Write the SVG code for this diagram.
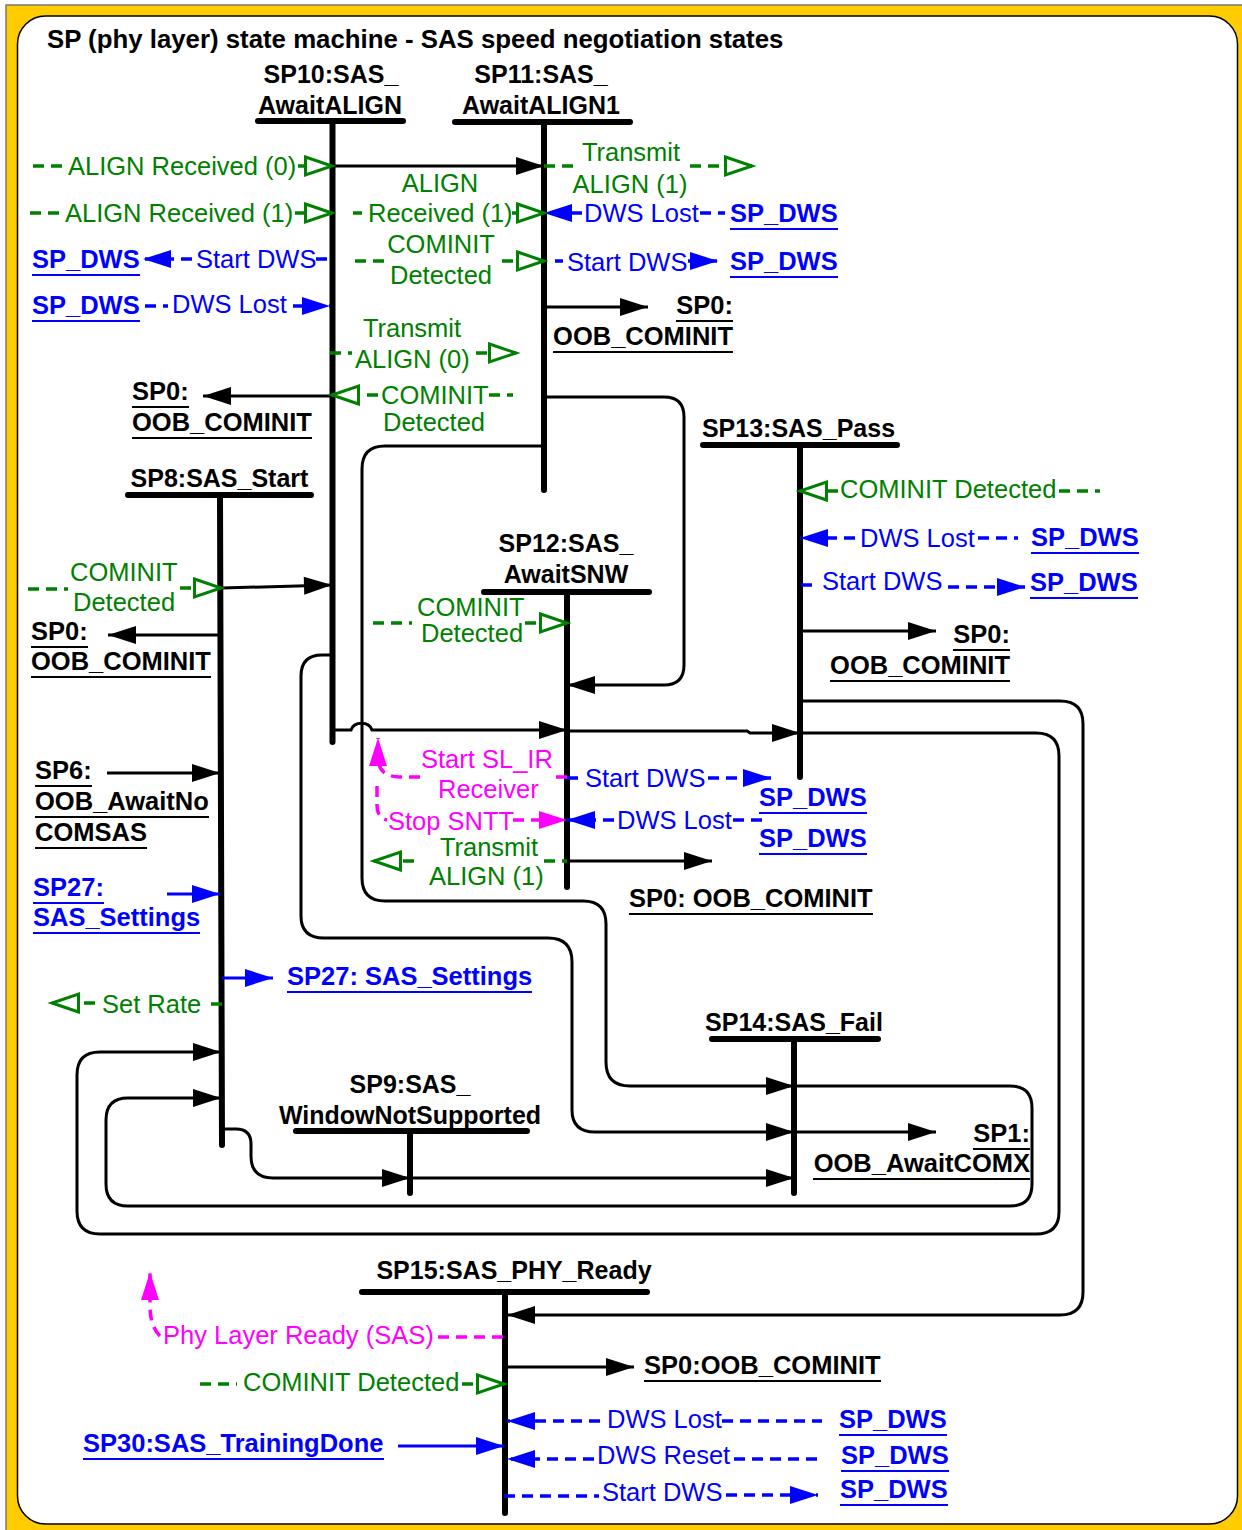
<svg xmlns="http://www.w3.org/2000/svg" width="1242" height="1530" viewBox="0 0 1242 1530">
<style>
.st{font:bold 25px "Liberation Sans",Arial,sans-serif;fill:#000}
.tt{font:bold 25.8px "Liberation Sans",Arial,sans-serif;fill:#000}
.lb{font:25.5px "Liberation Sans",Arial,sans-serif}
.g{fill:#008000}.b{fill:#0000ff}.m{fill:#ff00ff}
.lk{font:bold 25.5px "Liberation Sans",Arial,sans-serif;fill:#0000ff}
.rf{font:bold 25.5px "Liberation Sans",Arial,sans-serif;fill:#000}
.ulb{fill:none;stroke:#0000ff;stroke-width:2}
.ulk{fill:none;stroke:#000;stroke-width:2}
.bar{stroke:#000;stroke-width:6;stroke-linecap:round;fill:none}
.t{fill:none;stroke:#000;stroke-width:3}
.bs{fill:none;stroke:#0000ff;stroke-width:3}
.bd{fill:none;stroke:#0000ff;stroke-width:3.5;stroke-dasharray:11 7}
.gd{fill:none;stroke:#008000;stroke-width:3.5;stroke-dasharray:11 7}
.md{fill:none;stroke:#ff00ff;stroke-width:3.5;stroke-dasharray:11 7}
.e{text-anchor:end}.c{text-anchor:middle}
</style>
<defs>
<marker id="ah" markerUnits="userSpaceOnUse" markerWidth="30" markerHeight="20" refX="28" refY="9" orient="auto" overflow="visible"><path d="M0,0 L28,9 L0,18 z" fill="#000"/></marker>
<marker id="ahb" markerUnits="userSpaceOnUse" markerWidth="30" markerHeight="20" refX="28" refY="9" orient="auto" overflow="visible"><path d="M0,0 L28,9 L0,18 z" fill="#0000ff"/></marker>
<marker id="ahm" markerUnits="userSpaceOnUse" markerWidth="30" markerHeight="20" refX="28" refY="9" orient="auto" overflow="visible"><path d="M0,0 L28,9 L0,18 z" fill="#ff00ff"/></marker>
<marker id="oh" markerUnits="userSpaceOnUse" markerWidth="32" markerHeight="22" refX="28" refY="10" orient="auto" overflow="visible"><path d="M1.5,1 L28,10 L1.5,19 z" fill="#fff" stroke="#008000" stroke-width="3" stroke-dasharray="none"/></marker>
</defs>
<g id="frame">
<rect x="6" y="5" width="1240" height="1530" fill="#ffcc00" stroke="#777" stroke-width="1.5"/>
<rect x="17.5" y="16" width="1220" height="1508" rx="28" fill="#fff" stroke="#000" stroke-width="1.5"/>
<text class="tt" x="47" y="48">SP (phy layer) state machine - SAS speed negotiation states</text>
</g>
<g id="SP10"><text class="st c" x="331" y="83">SP10:SAS_</text><text class="st c" x="330" y="114">AwaitALIGN</text><path class="bar" d="M258,121 H403 M332.5,121 V742"/></g>
<g id="SP11"><text class="st c" x="541" y="83">SP11:SAS_</text><text class="st c" x="541" y="114">AwaitALIGN1</text><path class="bar" d="M455,122 H630 M544,122 V490"/></g>
<g id="SP8"><text class="st c" x="219.5" y="487">SP8:SAS_Start</text><path class="bar" d="M128,495 H311 M220,495 L222,1145"/></g>
<g id="SP12"><text class="st c" x="566" y="552">SP12:SAS_</text><text class="st c" x="566" y="583">AwaitSNW</text><path class="bar" d="M484,592 H649 M567,592 V887"/></g>
<g id="SP13"><text class="st c" x="798.5" y="437">SP13:SAS_Pass</text><path class="bar" d="M703,445 H897 M800,445 V777"/></g>
<g id="SP14"><text class="st c" x="794" y="1031">SP14:SAS_Fail</text><path class="bar" d="M712,1039 H878 M794,1039 V1193"/></g>
<g id="SP9"><text class="st c" x="410" y="1093">SP9:SAS_</text><text class="st c" x="410" y="1124">WindowNotSupported</text><path class="bar" d="M296,1131 H527 M410,1131 V1193"/></g>
<g id="SP15"><text class="st c" x="514" y="1279">SP15:SAS_PHY_Ready</text><path class="bar" d="M362,1292 H647 M505,1292 V1513"/></g>
<g id="connectors">
<g marker-end="url(#ah)">
<path class="t" d="M332,166 H544"/>
<path class="t" d="M544,307 H648"/>
<path class="t" d="M332,396 H203"/>
<path class="t" d="M541,397 L664,397 Q684,397 684,417 L684,665 Q684,685 664,685 L567,685"/>
<path class="t" d="M544,446 L385,446 Q362,446 362,469 L362,878 Q362,901 385,901 L583,901 Q606,901 606,924 L606,1062 Q606,1086 630,1086 L794,1086"/>
<path class="t" d="M332,655 L322,655 Q301,655 301,676 L301,916 Q301,938 324,938 L548,938 Q572,938 572,962 L572,1110 Q572,1132 595,1132 L794,1132"/>
<path class="t" d="M222,588 L332,585"/>
<path class="t" d="M220,635 H108"/>
<path class="t" d="M332,730 H351 C354,721 369,721 372,730 H567"/>
<path class="t" d="M567,731 H747 L750,733 H800"/>
<path class="t" d="M800,733 L1036,733 Q1059,733 1059,756 L1059,1212 Q1059,1234 1036,1234 L100,1234 Q77,1234 77,1211 L77,1075 Q77,1052 100,1052 L221,1052"/>
<path class="t" d="M800,701 L1060,701 Q1083,701 1083,724 L1083,1292 Q1083,1315 1060,1315 L507,1315"/>
<path class="t" d="M794,1086 L1010,1086 Q1032,1086 1032,1108 L1032,1184 Q1032,1206 1010,1206 L128,1206 Q106,1206 106,1184 L106,1120 Q106,1098 128,1098 L221,1098"/>
<path class="t" d="M794,1132 H936"/>
<path class="t" d="M223,1129 L236,1129 Q251,1129 251,1144 L251,1156 Q251,1178 273,1178 L410,1178"/>
<path class="t" d="M410,1178 H794"/>
<path class="t" d="M567,861 H712"/>
<path class="t" d="M800,631 H936"/>
<path class="t" d="M107,773 H220"/>
<path class="t" d="M505,1367 H634"/>
</g>
<g marker-end="url(#ahb)">
<path class="bs" d="M167,894 H220"/>
<path class="bs" d="M222,978 H273"/>
<path class="bs" d="M398,1446 H504"/>
<path class="bd" d="M582,213 H544"/>
<path class="bd" d="M192,259 H143"/>
<path class="bd" d="M688,261 H718"/>
<path class="bd" d="M293,306 H330"/>
<path class="bd" d="M614,820 H567"/>
<path class="bd" d="M708,778 H771"/>
<path class="bd" d="M855,538 H800"/>
<path class="bd" d="M948,587 H1025"/>
<path class="bd" d="M600,1421 H507"/>
<path class="bd" d="M594,1459 H507"/>
<path class="bd" d="M726,1495 H818"/>
</g>
<path class="bd" d="M700,213 H725 M316,259 H328 M555,261 H563 M145,306 H168 M567,778 H580 M733,820 H765 M978,538 H1018 M801,585 H815 M722,1421 H822 M734,1459 H822 M504,1496 H599"/>
<g marker-end="url(#oh)">
<path class="gd" d="M298,166 H332"/>
<path class="gd" d="M690,166 H752"/>
<path class="gd" d="M295,213 H332"/>
<path class="gd" d="M512,213 H544"/>
<path class="gd" d="M502,261 H544"/>
<path class="gd" d="M476,353 H516"/>
<path class="gd" d="M378,395 H332"/>
<path class="gd" d="M180,588 H221"/>
<path class="gd" d="M525,623 H567"/>
<path class="gd" d="M414,861 H374"/>
<path class="gd" d="M838,491 H800"/>
<path class="gd" d="M95,1003 H52"/>
<path class="gd" d="M462,1384 H504"/>
</g>
<path class="gd" d="M33,166 H62 M544,166 H575 M30,213 H60 M353,213 H362 M355,261 H386 M330,353 H352 M489,395 H513 M28,589 H68 M373,623 H412 M544,861 H567 M1059,491 H1100 M222,1004 H210 M200,1384 H237"/>
<g marker-end="url(#ahm)">
<path class="md" d="M420,777 H400 Q378,777 378,757 L378,738"/>
<path class="md" d="M513,820 H567"/>
<path class="md" d="M160,1336 Q150,1326 150,1306 L150,1272"/>
</g>
<path class="md" d="M567,777 H555 M377,786 V805 Q377,818 387,820 M503,1337 H436"/>
<g class="lb g">
<text x="68" y="175">ALIGN Received (0)</text>
<text x="65" y="222">ALIGN Received (1)</text>
<text class="c" x="631" y="161">Transmit</text>
<text class="c" x="630" y="193">ALIGN (1)</text>
<text class="c" x="440" y="192">ALIGN</text>
<text x="368" y="222">Received (1)</text>
<text class="c" x="441" y="253">COMINIT</text>
<text class="c" x="441" y="284">Detected</text>
<text class="c" x="412" y="337">Transmit</text>
<text x="355" y="368">ALIGN (0)</text>
<text x="381" y="404">COMINIT</text>
<text class="c" x="434" y="431">Detected</text>
<text x="70" y="581">COMINIT</text>
<text x="73" y="611">Detected</text>
<text x="417" y="616">COMINIT</text>
<text x="421" y="642">Detected</text>
<text class="c" x="489" y="856">Transmit</text>
<text x="429" y="885">ALIGN (1)</text>
<text x="840" y="498">COMINIT Detected</text>
<text x="102" y="1013">Set Rate</text>
<text x="243" y="1391">COMINIT Detected</text>
</g>
<g class="lb b">
<text x="584" y="222">DWS Lost</text>
<text x="196" y="268">Start DWS</text>
<text x="567" y="271">Start DWS</text>
<text x="172" y="313">DWS Lost</text>
<text x="585" y="787">Start DWS</text>
<text x="617" y="829">DWS Lost</text>
<text x="860" y="547">DWS Lost</text>
<text x="822" y="590">Start DWS</text>
<text x="607" y="1428">DWS Lost</text>
<text x="597" y="1464">DWS Reset</text>
<text x="602" y="1501">Start DWS</text>
</g>
<g class="lb m">
<text x="421" y="768">Start SL_IR</text>
<text x="438" y="798">Receiver</text>
<text x="388" y="830">Stop SNTT</text>
<text x="163" y="1344">Phy Layer Ready (SAS)</text>
</g>
</g>
<g id="refs">
<text class="lk" x="730" y="222">SP_DWS</text>
<text class="lk" x="32" y="268">SP_DWS</text>
<text class="lk" x="730" y="270">SP_DWS</text>
<text class="lk" x="32" y="314">SP_DWS</text>
<text class="lk" x="1031" y="546">SP_DWS</text>
<text class="lk" x="1030" y="591">SP_DWS</text>
<text class="lk" x="759" y="806">SP_DWS</text>
<text class="lk" x="759" y="847">SP_DWS</text>
<text class="lk" x="33" y="896">SP27:</text>
<text class="lk" x="33" y="926">SAS_Settings</text>
<text class="lk" x="287" y="985">SP27: SAS_Settings</text>
<text class="lk" x="83" y="1452">SP30:SAS_TrainingDone</text>
<text class="lk" x="839" y="1428">SP_DWS</text>
<text class="lk" x="841" y="1464">SP_DWS</text>
<text class="lk" x="840" y="1498">SP_DWS</text>
<path class="ulb" d="M730,229 H838 M32,275 H140 M730,277 H838 M32,321 H140 M1031,553 H1139 M1030,598 H1138 M759,813 H867 M759,854 H867 M33,903 H104 M33,933 H200 M287,992 H532 M83,1459 H384 M839,1435 H947 M841,1471 H949 M840,1505 H948"/>
<text class="rf e" x="733" y="314">SP0:</text>
<text class="rf e" x="733" y="345">OOB_COMINIT</text>
<text class="rf" x="132" y="400">SP0:</text>
<text class="rf" x="132" y="431">OOB_COMINIT</text>
<text class="rf" x="31" y="640">SP0:</text>
<text class="rf" x="31" y="670">OOB_COMINIT</text>
<text class="rf e" x="1010" y="643">SP0:</text>
<text class="rf e" x="1010" y="674">OOB_COMINIT</text>
<text class="rf" x="35" y="779">SP6:</text>
<text class="rf" x="35" y="810">OOB_AwaitNo</text>
<text class="rf" x="35" y="841">COMSAS</text>
<text class="rf" x="629" y="907">SP0: OOB_COMINIT</text>
<text class="rf e" x="1030" y="1142">SP1:</text>
<text class="rf e" x="1030" y="1172">OOB_AwaitCOMX</text>
<text class="rf" x="644" y="1374">SP0:OOB_COMINIT</text>
<path class="ulk" d="M676,321 H733 M553,352 H733 M132,407 H189 M132,438 H312 M31,647 H88 M31,677 H211 M953,650 H1010 M830,681 H1010 M35,786 H92 M35,817 H209 M35,848 H147 M629,914 H873 M973,1149 H1030 M813,1179 H1030 M644,1381 H881"/>
</g>
</svg>
